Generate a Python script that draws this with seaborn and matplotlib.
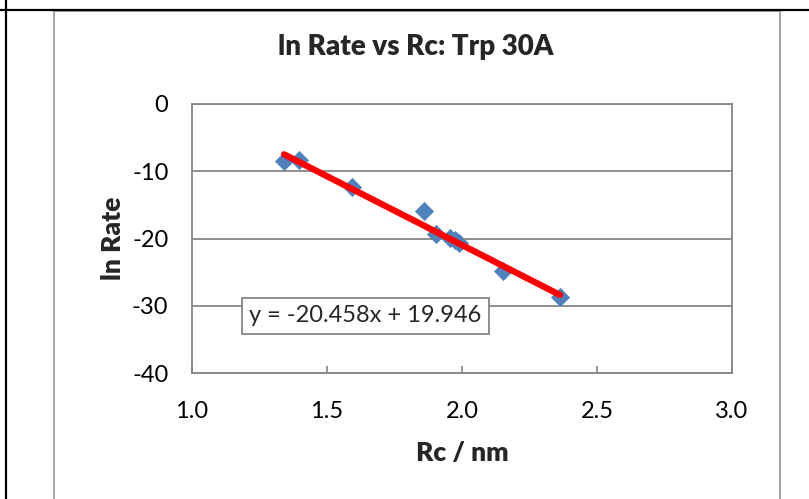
import numpy as np
import pandas as pd
import matplotlib
matplotlib.use("Agg")
import matplotlib.pyplot as plt
import seaborn as sns
from matplotlib.lines import Line2D

# ---- data ----
rc_nm = [1.341, 1.397, 1.594, 1.859, 1.904, 1.956, 1.974, 1.990, 2.153, 2.363]
ln_rate = [-8.43, -8.33, -12.4, -15.9, -19.3, -19.97, -20.2, -20.6, -24.8, -28.65]
fit_slope = -20.458
fit_intercept = 19.946
x_ticks = [1.0, 1.5, 2.0, 2.5, 3.0]
y_ticks = [0, -10, -20, -30, -40]
title = "ln Rate vs Rc: Trp 30A"
x_label = "Rc / nm"
y_label = "ln Rate"
eq_label = "y = -20.458x + 19.946"

sns.set_theme(style="white")
plt.rcParams["font.family"] = ["Lato", "DejaVu Sans"]

W, H = 809, 499
fig = plt.figure(figsize=(W / 100, H / 100), dpi=100)
ax = fig.add_axes([192 / W, 1 - 373 / H, (732 - 192) / W, (373 - 104) / H])

df = pd.DataFrame({"Rc": rc_nm, "lnRate": ln_rate})
fit_x = [min(rc_nm), max(rc_nm)]
fit_df = pd.DataFrame({"Rc": fit_x,
                       "fit": [fit_slope * v + fit_intercept for v in fit_x]})

grid_c = "#868686"
ax.set_axisbelow(True)
for yv in y_ticks:
    ax.axhline(yv, color=grid_c, lw=1.3, zorder=0)

sns.scatterplot(data=df, x="Rc", y="lnRate", marker="D", s=95,
                color="#4F81BD", edgecolor="#4F81BD", linewidth=0, ax=ax, zorder=3)
sns.lineplot(data=fit_df, x="Rc", y="fit", color="#FF0000", lw=4.6, ax=ax, zorder=4)

ax.set_xlim(1.0, 3.0)
ax.set_ylim(-40, 0)
ax.set_xticks(x_ticks)
ax.set_xticklabels([f"{v:.1f}" for v in x_ticks])
ax.set_yticks(y_ticks)
ax.set_yticklabels([str(v) for v in y_ticks])
for s in ax.spines.values():
    s.set_color(grid_c)
    s.set_linewidth(1.3)
ax.tick_params(axis="x", direction="in", length=5, width=1.2, color=grid_c,
               pad=20, labelsize=17, labelcolor="black")
ax.tick_params(axis="y", length=0, pad=17, labelsize=17, labelcolor="black")
ax.tick_params(axis="x", bottom=True, top=False)
ax.set_xlabel(x_label, fontsize=19, fontweight="heavy", labelpad=14)
ax.set_ylabel(y_label, fontsize=19, fontweight="heavy", labelpad=5)

ax.text(0.321, 0.212, eq_label, transform=ax.transAxes, ha="center", va="center",
        fontsize=17, zorder=5,
        bbox=dict(boxstyle="square,pad=0.3", fc="white", ec=grid_c, lw=1.3))

fig.text(416 / W, 1 - 47 / H, title, ha="center", va="center",
         fontsize=20, fontweight="heavy")

# page / cell borders
fig.add_artist(Line2D([54 / W, 54 / W], [0, 1 - 11 / H], color="#8c8c8c", lw=1.1))
fig.add_artist(Line2D([780 / W, 780 / W], [0, 1 - 11 / H], color="#8c8c8c", lw=1.1))
fig.add_artist(Line2D([54 / W, 780 / W], [1 - 11 / H, 1 - 11 / H], color="#8c8c8c", lw=1.1))
fig.add_artist(Line2D([0, 1], [1 - 10 / H, 1 - 10 / H], color="black", lw=1.6))
fig.add_artist(Line2D([5.5 / W, 5.5 / W], [0, 1], color="black", lw=1.6))

fig.savefig("out.png", dpi=100)
